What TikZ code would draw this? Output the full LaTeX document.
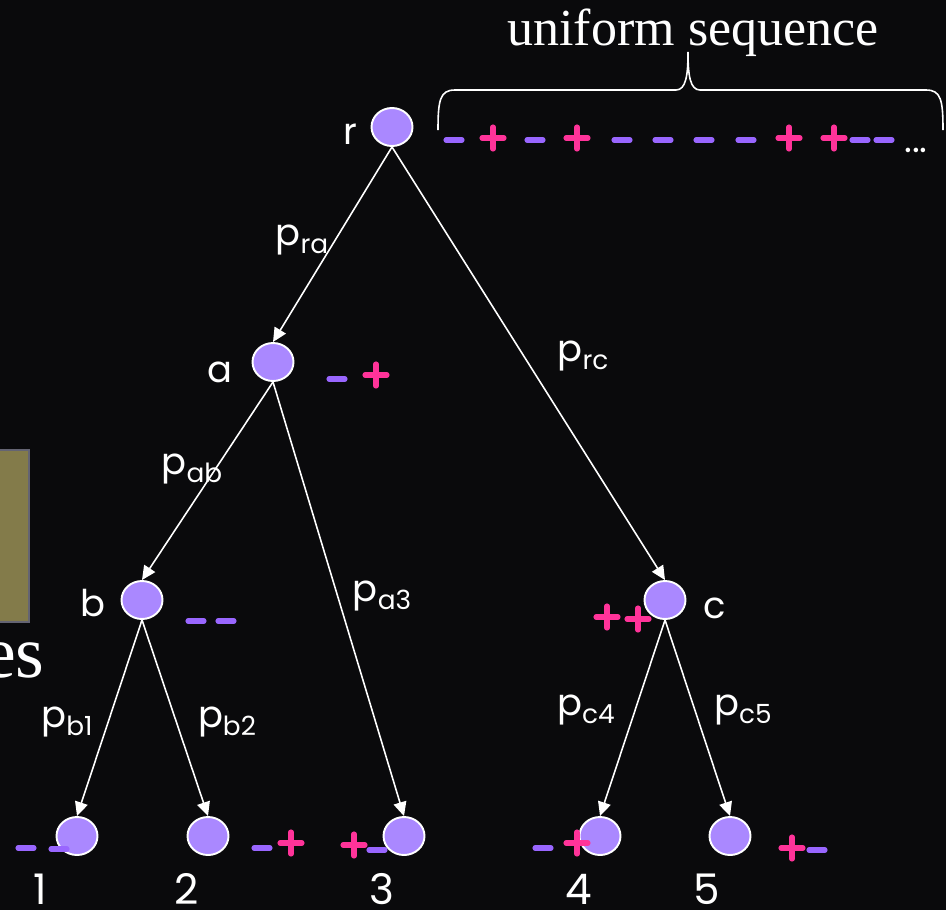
\documentclass[tikz,border=0pt]{standalone}
\usepackage{fontspec}
\setmainfont{Liberation Serif}
\newfontfamily\comicfont{Poppins}
\usetikzlibrary{shapes.geometric, arrows.meta, positioning}

\definecolor{bgcol}{RGB}{10,10,12}
\definecolor{nodecol}{RGB}{170,136,255}
\definecolor{minuscol}{RGB}{153,102,255}
\definecolor{pluscol}{RGB}{255,51,153}
\definecolor{olivecol}{RGB}{131,123,74}
\definecolor{boxedge}{RGB}{100,100,115}

\newcommand{\plab}[1]{p\raisebox{-0.22em}{\fontsize{15}{15}\selectfont #1}}

\begin{document}
\begin{tikzpicture}[x=0.02cm, y=-0.02cm, >={Triangle[length=0.28cm, width=0.26cm]}]

    % Define the styles
    \tikzstyle{vertex} = [ellipse, draw=white, fill=nodecol, line width=1.1pt, minimum width=0.82cm, minimum height=0.76cm, inner sep=0pt]
    \tikzstyle{arrow} = [->, draw=white, fill=white, line width=0.9pt]
    \tikzstyle{lbl} = [text=white, font=\comicfont\fontsize{21}{21}\selectfont, inner sep=0pt]
    \tikzstyle{digit} = [text=white, font=\comicfont\fontsize{24}{24}\selectfont, inner sep=0pt]
    \tikzstyle{minusmark} = [draw=minuscol, line width=2.9pt, line cap=round]
    \tikzstyle{plusmark} = [draw=pluscol, line width=2.9pt, line cap=round]

    % Background
    \fill [bgcol] (0,0) rectangle (946,910);
    \useasboundingbox (0,0) rectangle (946,910);

    % Cut-off box and text on the left
    \draw [fill=olivecol, draw=boxedge, line width=1.1pt] (-5,450) rectangle (29,622);
    \node (es) [anchor=base east, text=white, font=\fontsize{42}{42}\selectfont, inner sep=0pt] at (45,677) {es};

    % Nodes
    \node (r) [vertex] at (392,127) {};
    \node (a) [vertex] at (273,362) {};
    \node (b) [vertex] at (142,600) {};
    \node (c) [vertex] at (665,600) {};
    \node (l1) [vertex] at (77,836) {};
    \node (l2) [vertex] at (208,836) {};
    \node (l3) [vertex] at (404,836) {};
    \node (l4) [vertex] at (600,836) {};
    \node (l5) [vertex] at (730,836) {};

    % Node names
    \node (rname) [lbl] at (350,134) {r};
    \node (aname) [lbl] at (220,372) {a};
    \node (bname) [lbl] at (93,603) {b};
    \node (cname) [lbl] at (715,608) {c};

    \node (n1) [digit] at (40,889) {1};
    \node (n2) [digit] at (187,889) {2};
    \node (n3) [digit] at (382,889) {3};
    \node (n4) [digit] at (579,889) {4};
    \node (n5) [digit] at (707,889) {5};

    % Arrows
    \draw [arrow] (r.south) -- (a.north);
    \draw [arrow] (r.south) -- (c.north);
    \draw [arrow] (a.south) -- (b.north);
    \draw [arrow] (a.south) -- (l3.north);
    \draw [arrow] (b.south) -- (l1.north);
    \draw [arrow] (b.south) -- (l2.north);
    \draw [arrow] (c.south) -- (l4.north);
    \draw [arrow] (c.south) -- (l5.north);

    % Edge probabilities
    \node (pra) [lbl] at (302,240) {\plab{ra}};
    \node (prc) [lbl] at (583,356) {\plab{rc}};
    \node (pab) [lbl] at (192,469) {\plab{ab}};
    \node (pa3) [lbl] at (382,596) {\plab{a3}};
    \node (pb1) [lbl] at (67,722) {\plab{b1}};
    \node (pb2) [lbl] at (227,722) {\plab{b2}};
    \node (pc4) [lbl] at (586,710) {\plab{c4}};
    \node (pc5) [lbl] at (743,710) {\plab{c5}};

    % Signs
    \foreach \x/\y in {454/140, 535/140, 622/140, 663/140, 704/140, 746/140, 860/140, 884/140,
                       337/379, 196/621, 226/621, 26/848, 59/849, 262/848, 377/850, 543/848, 817/850}
        \draw [minusmark] (\x-8,\y) -- (\x+8,\y);
    \foreach \x/\y in {493/138, 577/138, 789/138, 834/138,
                       376/375, 607/617, 638/619, 291/843, 354/845, 577/843, 792/848}
        \draw [plusmark] (\x-11,\y) -- (\x+11,\y) (\x,\y-11) -- (\x,\y+11);
    \node (dots) [lbl] at (916,150) {...};

    % Brace over the sequence
    \node (title) [anchor=base, text=white, font=\fontsize{29.6}{30}\selectfont, inner sep=0pt] at (693,45) {uniform sequence};
    \draw [white, line width=0.9pt] (438,130) .. controls (438,100) and (440,90) .. (455,90) -- (676,90)
        .. controls (686,90) and (688,75) .. (688,52) .. controls (688,75) and (690,90) .. (700,90)
        -- (926,90) .. controls (941,90) and (943,100) .. (943,130);

\end{tikzpicture}
\end{document}
